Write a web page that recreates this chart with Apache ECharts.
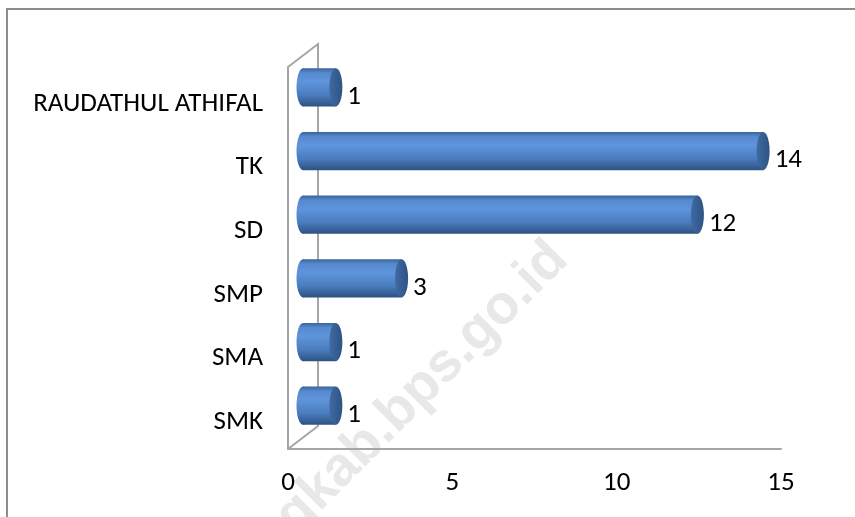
<!DOCTYPE html>
<html>
<head>
<meta charset="utf-8">
<script src="https://cdn.jsdelivr.net/npm/echarts@6/dist/echarts.min.js"></script>
<style>
html,body{margin:0;padding:0;background:#fff;}
#chart{width:855px;height:517px;}
</style>
</head>
<body>
<div id="chart"></div>
<script>
const categories = ['SMK', 'SMA', 'SMP', 'SD', 'TK', 'RAUDATHUL ATHIFAL'];
const values = [1, 1, 3, 12, 14, 1];
const xTicks = [0, 5, 10, 15];

const FONT = "'Carlito', 'Liberation Sans Narrow', 'Liberation Sans', sans-serif";
const chart = echarts.init(document.getElementById('chart'), null, {renderer: 'canvas'});

const gridLeft = 288, gridRight = 74, gridTop = 67, gridBottom = 68;
const W = 855, H = 517;
const floorY = H - gridBottom;
const depthX = 30, depthY = 23;

const bodyGrad = () => new echarts.graphic.LinearGradient(0, 0, 0, 1, [
  {offset: 0, color: '#3a6498'},
  {offset: 0.12, color: '#5589d0'},
  {offset: 0.35, color: '#5f95dc'},
  {offset: 0.7, color: '#4a7cbe'},
  {offset: 0.92, color: '#355d92'},
  {offset: 1, color: '#2e5283'}
]);
const capGrad = () => new echarts.graphic.LinearGradient(0, 0, 1, 0, [
  {offset: 0, color: '#3f6aa2'},
  {offset: 1, color: '#2f5384'}
]);

const option = {
  backgroundColor: '#ffffff',
  animation: false,
  grid: {left: gridLeft, right: gridRight, top: gridTop, bottom: gridBottom, containLabel: false},
  xAxis: {
    type: 'value', min: xTicks[0], max: xTicks[xTicks.length - 1], interval: xTicks[1] - xTicks[0],
    axisLine: {show: true, lineStyle: {color: '#a6a6a6', width: 2}},
    axisTick: {show: false},
    splitLine: {show: false},
    axisLabel: {color: '#000', fontSize: 27, fontFamily: FONT, margin: 21}
  },
  yAxis: {
    type: 'category', data: categories,
    axisLine: {show: true, lineStyle: {color: '#a6a6a6', width: 2}},
    axisTick: {show: false},
    splitLine: {show: false},
    axisLabel: {color: '#000', fontSize: 27, fontFamily: FONT, margin: 25, verticalAlign: 'top', lineHeight: 10}
  },
  graphic: [
    {type: 'rect', z: -20, shape: {x: 7, y: 9, width: 900, height: 600},
     style: {fill: 'none', stroke: '#8c8c8c', lineWidth: 2}},
    {type: 'text', z: -10, x: 422, y: 388, rotation: Math.PI / 4,
     style: {text: 'gkab.bps.go.id', font: "bold 55px 'Liberation Sans', sans-serif",
             fill: '#e8e8e8', align: 'center', verticalAlign: 'middle'}},
    {type: 'polyline', z: 1, shape: {points: [[gridLeft, gridTop], [gridLeft + depthX, gridTop - depthY], [gridLeft + depthX, floorY - depthY], [gridLeft, floorY]]},
     style: {fill: 'none', stroke: '#a6a6a6', lineWidth: 2}}
  ],
  series: [{
    type: 'custom',
    z: 5,
    data: values.map((v, i) => [v, i]),
    encode: {x: 0, y: 1},
    renderItem: function (params, api) {
      const v = api.value(0), idx = api.value(1);
      const p0 = api.coord([0, idx]);
      const p1 = api.coord([v, idx]);
      const band = api.size([0, 1])[1];
      const cy = p0[1] - band * 0.18;
      const ry = band * 0.3;
      const rx = 6.5;
      const cx0 = p0[0] + 15, cx1 = p1[0] + 15;
      return {
        type: 'group',
        children: [
          {type: 'ellipse', shape: {cx: cx0, cy: cy, rx: rx, ry: ry}, style: {fill: bodyGrad()}},
          {type: 'rect', shape: {x: cx0, y: cy - ry, width: cx1 - cx0, height: ry * 2}, style: {fill: bodyGrad()}},
          {type: 'ellipse', shape: {cx: cx1, cy: cy, rx: rx, ry: ry}, style: {fill: capGrad()}},
          {type: 'text', style: {text: String(v), x: cx1 + rx + 5, y: p0[1] - 2, verticalAlign: 'middle', align: 'left',
            fontSize: 27, fontFamily: FONT, fill: '#000'}}
        ]
      };
    }
  }]
};
chart.setOption(option);
</script>
</body>
</html>
